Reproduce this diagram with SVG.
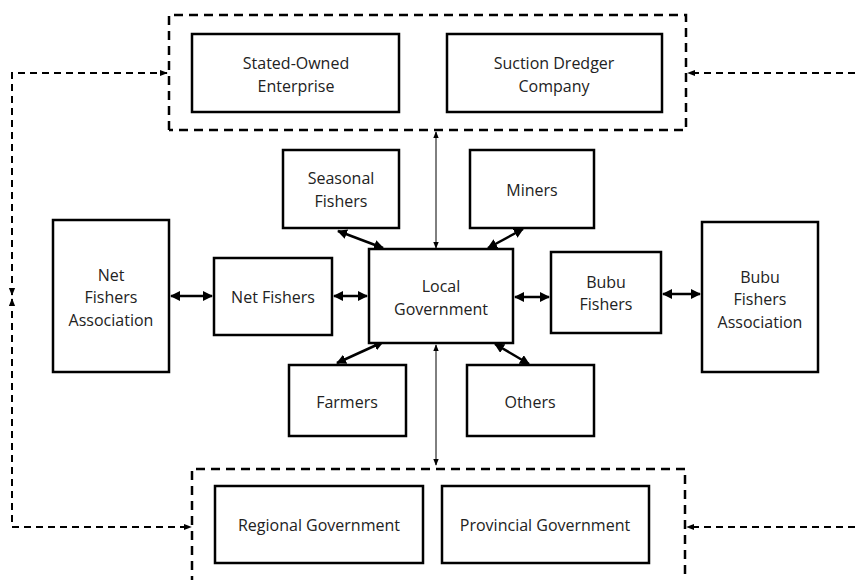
<svg xmlns="http://www.w3.org/2000/svg" width="855" height="580" viewBox="0 0 855 580">
<defs>
<marker id="ah" viewBox="0 0 10 10" refX="9" refY="5" markerWidth="4" markerHeight="4" orient="auto-start-reverse">
<path d="M0,0 L10,5 L0,10 z" fill="#000"/>
</marker>
<marker id="as" viewBox="0 0 10 10" refX="9" refY="5" markerWidth="7" markerHeight="7" orient="auto-start-reverse">
<path d="M0,1 L10,5 L0,9 z" fill="#000"/>
</marker>
<marker id="ad" viewBox="0 0 10 10" refX="9" refY="5" markerWidth="4" markerHeight="4" orient="auto-start-reverse">
<path d="M0,1 L10,5 L0,9 z" fill="#000"/>
</marker>
<style>
.box{fill:#fff;stroke:#000;stroke-width:2.5}
.grp{fill:none;stroke:#000;stroke-width:2.5;stroke-dasharray:9,6}
.t{font-family:"Open Sans","Liberation Sans",sans-serif;font-size:16px;fill:#222;text-anchor:middle}
.thick{fill:none;stroke:#000;stroke-width:2.5;marker-start:url(#ah);marker-end:url(#ah)}
.thin{fill:none;stroke:#000;stroke-width:1;marker-start:url(#as);marker-end:url(#as)}
.dash{fill:none;stroke:#000;stroke-width:2;stroke-dasharray:7,5}
</style>
</defs>
<rect width="855" height="580" fill="#fff"/>

<g id="top-group">
<path class="grp" d="M169,130 L169,15 L686,15 L686,130 L169,130"/>
</g>
<g id="bottom-group">
<path class="grp" d="M192,585 L192,469 L685,469 L685,585"/>
</g>

<g id="connectors">
<path class="thick" d="M171,296 L212,296"/>
<path class="thick" d="M334,296 L367,296"/>
<path class="thick" d="M515,297 L549,297"/>
<path class="thick" d="M663,294 L700,294"/>
<path class="thick" d="M338,231 L383,248"/>
<path class="thick" d="M523,229 L488,248"/>
<path class="thick" d="M383,342 L337,363"/>
<path class="thick" d="M495,344 L529,364"/>
<path class="thin" d="M436,132 L436,248"/>
<path class="thin" d="M436,345 L436,465"/>
<path class="dash" marker-start="url(#ad)" marker-end="url(#ad)" d="M12,295 L12,73 L167,73"/>
<path class="dash" marker-start="url(#ad)" marker-end="url(#ad)" d="M12,299 L12,527 L191,527"/>
<path class="dash" marker-end="url(#ad)" d="M855,73 L688,73"/>
<path class="dash" marker-end="url(#ad)" d="M855,527 L687,527"/>
</g>

<g id="soe"><rect class="box" x="192" y="34" width="207" height="78"/>
<text class="t" x="296" y="69">Stated-Owned</text><text class="t" x="296" y="92">Enterprise</text></g>
<g id="sdc"><rect class="box" x="447" y="34" width="215" height="78"/>
<text class="t" x="554" y="69">Suction Dredger</text><text class="t" x="554" y="92">Company</text></g>
<g id="seasonal"><rect class="box" x="283" y="150" width="116" height="78"/>
<text class="t" x="341" y="184">Seasonal</text><text class="t" x="341" y="207">Fishers</text></g>
<g id="miners"><rect class="box" x="470" y="150" width="124" height="78"/>
<text class="t" x="532" y="196">Miners</text></g>
<g id="local"><rect class="box" x="369" y="249" width="144" height="94"/>
<text class="t" x="441" y="292">Local</text><text class="t" x="441" y="315">Government</text></g>
<g id="nfa"><rect class="box" x="53" y="220" width="116" height="152"/>
<text class="t" x="111" y="281">Net</text><text class="t" x="111" y="303">Fishers</text><text class="t" x="111" y="326">Association</text></g>
<g id="netfishers"><rect class="box" x="214" y="258" width="118" height="77"/>
<text class="t" x="273" y="303">Net Fishers</text></g>
<g id="bubu"><rect class="box" x="551" y="252" width="110" height="81"/>
<text class="t" x="606" y="288">Bubu</text><text class="t" x="606" y="310">Fishers</text></g>
<g id="bfa"><rect class="box" x="702" y="222" width="116" height="150"/>
<text class="t" x="760" y="283">Bubu</text><text class="t" x="760" y="305">Fishers</text><text class="t" x="760" y="328">Association</text></g>
<g id="farmers"><rect class="box" x="289" y="365" width="117" height="71"/>
<text class="t" x="347" y="408">Farmers</text></g>
<g id="others"><rect class="box" x="467" y="365" width="127" height="71"/>
<text class="t" x="530" y="408">Others</text></g>
<g id="regional"><rect class="box" x="215" y="486" width="208" height="77"/>
<text class="t" x="319" y="531">Regional Government</text></g>
<g id="provincial"><rect class="box" x="442" y="486" width="207" height="77"/>
<text class="t" x="545" y="531">Provincial Government</text></g>
</svg>
